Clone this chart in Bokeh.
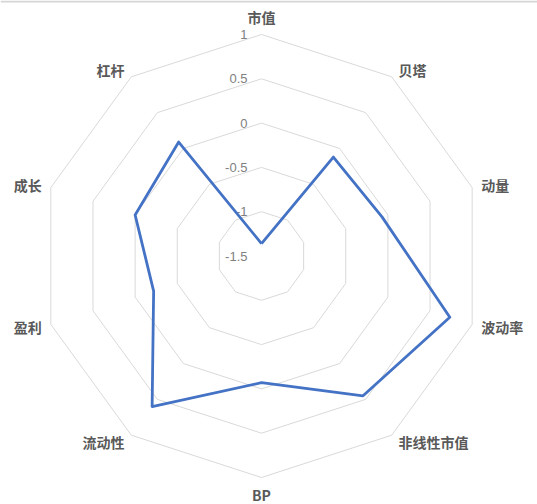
import math
from bokeh.plotting import figure
from bokeh.models import Range1d, ColumnDataSource, Span
from bokeh.embed import file_html
from bokeh.resources import INLINE
from bokeh.core.properties import value

# ---- data ----
categories = ["市值", "贝塔", "动量", "波动率", "非线性市值", "BP", "流动性", "盈利", "成长", "杠杆"]
values = [-1.36, -0.12, -0.07, 0.735, 0.45, -0.07, 0.6, -0.22, 0.0, 0.09]
ticks = [-1.5, -1, -0.5, 0, 0.5, 1]
tick_labels = ["-1.5", "-1", "-0.5", "0", "0.5", "1"]

# ---- layout ----
W, H = 537, 504
p = figure(width=W, height=H, x_range=Range1d(0, W), y_range=Range1d(0, H),
           output_backend="svg", toolbar_location=None, min_border=0)
p.axis.visible = False
p.grid.visible = False
p.outline_line_color = None

# thin frame line at the top edge
p.add_layout(Span(location=H - 1, dimension="width", line_color="#d6d6d6", line_width=2))

cx, cy = 261.0, H - 255.5
vmin, vmax = ticks[0], ticks[-1]
R = 221.5
n = len(categories)
angles = [2 * math.pi * i / n for i in range(n)]


def rad(v):
    return (v - vmin) / (vmax - vmin) * R


def pt(v, a):
    r = rad(v)
    return cx + r * math.sin(a), cy + r * math.cos(a)


# rings
ring_xs, ring_ys = [], []
for t in ticks[1:]:
    xs = [pt(t, a)[0] for a in angles] + [pt(t, angles[0])[0]]
    ys = [pt(t, a)[1] for a in angles] + [pt(t, angles[0])[1]]
    ring_xs.append(xs)
    ring_ys.append(ys)
p.multi_line(ring_xs, ring_ys, line_color="#d9d9d9", line_width=1)

# tick labels
tsrc = ColumnDataSource(dict(x=[cx - 14] * len(ticks), y=[cy + rad(t) for t in ticks], text=tick_labels))
p.text(x="x", y="y", text="text", source=tsrc, text_align="right", text_baseline="middle",
       text_font=value("Liberation Sans"), text_font_size="13px", text_color="#808080")

# data polygon
dx = [pt(v, a)[0] for v, a in zip(values, angles)]
dy = [pt(v, a)[1] for v, a in zip(values, angles)]
p.line(dx + dx[:1], dy + dy[:1], line_color="#4472C4", line_width=2.8, line_join="round")

# category labels
lx, ly, la = [], [], []
for a in angles:
    vx, vy = pt(vmax, a)
    s, c = math.sin(a), math.cos(a)
    if abs(s) < 0.1:
        align = "center"
        ox = 0
        oy = c * 17.5
    else:
        align = "left" if s > 0 else "right"
        ox = (3 + 6.5 * abs(s)) * (1 if s > 0 else -1)
        oy = c * 8.5
    lx.append(vx + ox)
    ly.append(vy + oy)
    la.append(align)
lsrc = ColumnDataSource(dict(x=lx, y=ly, text=categories, align=la))
p.text(x="x", y="y", text="text", source=lsrc, text_align="align", text_baseline="middle",
       text_font=value("Noto Sans CJK SC"), text_font_size="14px", text_color="#595959",
       text_font_style="bold")

open("out.html", "w").write(file_html(p, INLINE))
